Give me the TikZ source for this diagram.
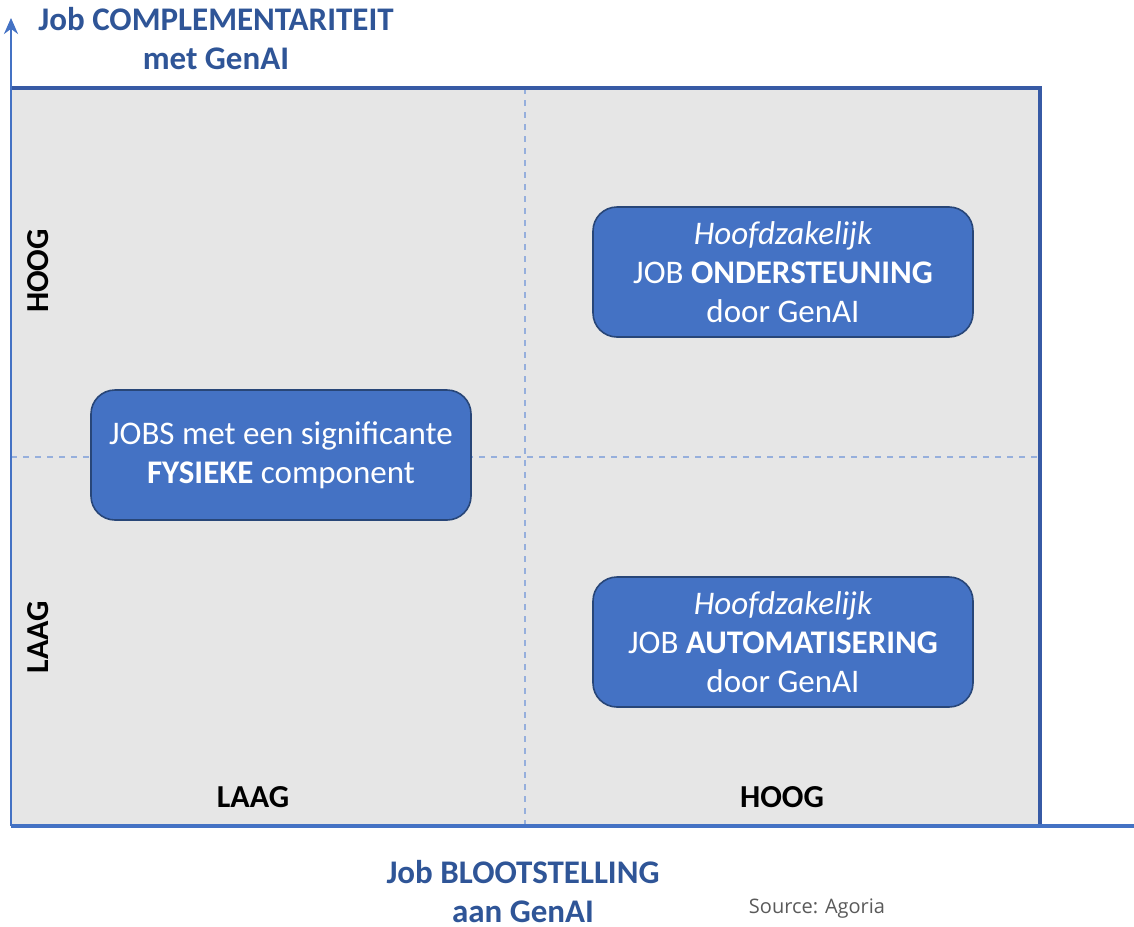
\documentclass[tikz,border=0pt]{standalone}
\usepackage{fontspec}
\setmainfont{Carlito}
\newfontfamily\sourcefont{Open Sans}
\usetikzlibrary{arrows.meta}
\definecolor{axisblue}{RGB}{68,114,196}
\definecolor{frameblue}{RGB}{55,90,165}
\definecolor{titleblue}{RGB}{47,85,151}
\definecolor{boxblue}{RGB}{68,114,196}
\definecolor{boxedge}{RGB}{40,70,120}
\definecolor{quadgray}{RGB}{230,230,230}
\definecolor{dashblue}{RGB}{150,175,220}
\definecolor{sourcegray}{RGB}{90,90,90}

\tikzset{
  jobbox/.style={draw=boxedge, line width=0.8pt, fill=boxblue, rounded corners=12pt,
    minimum width=190pt, minimum height=65pt, align=center, text=white,
    font=\fontsize{16.5}{19.5}\selectfont},
  axislabel/.style={font=\fontsize{16}{19}\selectfont\bfseries, text=black},
  axistitle/.style={font=\fontsize{16.5}{19.5}\selectfont\bfseries, text=titleblue,
    align=center, inner sep=0pt}
}

\begin{document}
\begin{tikzpicture}[x=0.5pt,y=-0.5pt]
  \useasboundingbox (0,0) rectangle (1134,926);

  % Quadrant field
  \fill[quadgray] (11,88) rectangle (1040,826);

  % Quadrant dividers
  \draw[dashblue, dashed, line width=0.6pt] (525,88) -- (525,826);
  \draw[dashblue, dashed, line width=0.6pt] (11,457) -- (1040,457);

  % Frame
  \draw[frameblue, line width=1.6pt] (11,88) -- (1040,88) -- (1040,826);

  % Axes
  \coordinate (origin) at (11,826);
  \coordinate (ytop) at (11,18);
  \coordinate (xend) at (1134,826);
  \draw[axisblue, line width=1.4pt, -{Stealth[length=8pt,width=7pt]}] (origin) -- (ytop);
  \draw[axisblue, line width=1.6pt] (origin) -- (xend);

  % Axis titles
  \node[axistitle] (ytitle) at (216,39) {Job COMPLEMENTARITEIT\\met GenAI};
  \node[axistitle] (xtitle) at (523,892) {Job BLOOTSTELLING\\aan GenAI};
  \node[font=\sourcefont\fontsize{10}{12}\selectfont, text=sourcegray] (source) at (817,909) {Source: Agoria};

  % Axis levels
  \node[axislabel, rotate=90] (yhigh) at (38,271) {HOOG};
  \node[axislabel, rotate=90] (ylow) at (38,637) {LAAG};
  \node[axislabel] (xlow) at (253,797) {LAAG};
  \node[axislabel] (xhigh) at (782,797) {HOOG};

  % Job boxes
  \node[jobbox] (support) at (783,272) {\itshape Hoofdzakelijk\\JOB \textbf{ONDERSTEUNING}\\door GenAI};
  \node[jobbox] (physical) at (281,455) {JOBS met een significante\\\textbf{FYSIEKE} component};
  \node[jobbox] (automation) at (783,642) {\itshape Hoofdzakelijk\\JOB \textbf{AUTOMATISERING}\\door GenAI};

\end{tikzpicture}
\end{document}
